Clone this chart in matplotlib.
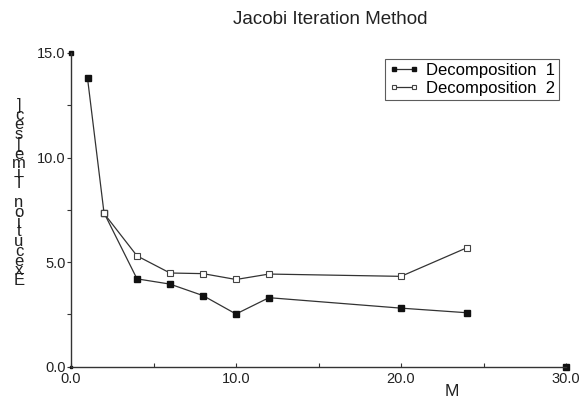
import matplotlib
matplotlib.use("Agg")
import matplotlib.pyplot as plt

plt.rcParams['font.family'] = ['Liberation Sans', 'DejaVu Sans']

title = "Jacobi Iteration Method"
xlabel = "M"
ylabel = "Execution Time[sec]"

x1 = [1, 2, 4, 6, 8, 10, 12, 20, 24]
y1 = [13.8, 7.36, 4.2, 3.95, 3.4, 2.52, 3.3, 2.8, 2.58]
x2 = [2, 4, 6, 8, 10, 12, 20, 24]
y2 = [7.33, 5.3, 4.48, 4.45, 4.17, 4.43, 4.32, 5.69]
labels = ["Decomposition  1", "Decomposition  2"]

xlim = (0, 30)
ylim = (0, 15)
xmajor = [0, 10, 20, 30]
xminor = [5, 15, 25]
ymajor = [0, 5, 10, 15]
yminor = [2.5, 7.5, 12.5]

fig = plt.figure(figsize=(5.79, 4.0), dpi=100)
ax = fig.add_axes([71/579, 1-366.7/400, (566-71)/579, (366.7-53)/400])

lc = '#333333'
ax.plot(x1, y1, color=lc, lw=0.9, marker='s', ms=5, mfc='#111111', mec='#111111',
        label=labels[0], clip_on=False)
ax.plot(x2, y2, color=lc, lw=0.9, marker='s', ms=4.2, mfc='white', mec='#444444',
        mew=0.8, label=labels[1], clip_on=False)

ax.set_xlim(*xlim)
ax.set_ylim(*ylim)
ax.set_xticks(xmajor)
ax.set_xticklabels([f"{v:.1f}" for v in xmajor])
ax.set_xticks(xminor, minor=True)
ax.set_yticks(ymajor)
ax.set_yticklabels([f"{v:.1f}" for v in ymajor])
ax.set_yticks(yminor, minor=True)

for s in ['top', 'right']:
    ax.spines[s].set_visible(False)
for s in ['left', 'bottom']:
    ax.spines[s].set_color('#333333')
    ax.spines[s].set_linewidth(1.0)

ax.tick_params(axis='x', which='both', direction='in', length=3, width=0.8,
               colors='#333333', labelsize=10.5, pad=4, labelcolor='#222222')
ax.tick_params(axis='y', which='both', direction='out', length=3, width=0.8,
               colors='#333333', labelsize=10.5, pad=1, labelcolor='#222222')

# axis end caps
ax.plot([xlim[1]], [ylim[0]], marker='s', ms=4, color='#111111', clip_on=False)
ax.plot([xlim[0]], [ylim[1]], marker='s', ms=3.5, color='#111111', clip_on=False)
ax.plot([xlim[0]], [ylim[0]], marker='s', ms=2, color='#111111', clip_on=False)

fig.text(330/579, 1-19/400, title, ha='center', va='center', fontsize=13.5, color='#222222')
fig.text(452/579, 1-391/400, xlabel, ha='center', va='center', fontsize=12.5, color='#222222')

# stacked y label (characters stacked bottom-to-top, one text object)
stacked = "\n".join(reversed(list(ylabel)))
fig.text(19/579, 1-193/400, stacked, ha='center', va='center', multialignment='center',
         fontsize=12, linespacing=0.56, color='#222222')

leg = ax.legend(loc='upper right', bbox_to_anchor=(559/579, 1-59/400),
                bbox_transform=fig.transFigure, frameon=True, fancybox=False,
                fontsize=12, handlelength=1.8, handletextpad=0.4, borderpad=0.25,
                labelspacing=0.15, numpoints=2, markerscale=0.7, borderaxespad=0)
leg.get_frame().set_edgecolor('#333333')
leg.get_frame().set_linewidth(0.8)

fig.savefig("out.png", dpi=100)
